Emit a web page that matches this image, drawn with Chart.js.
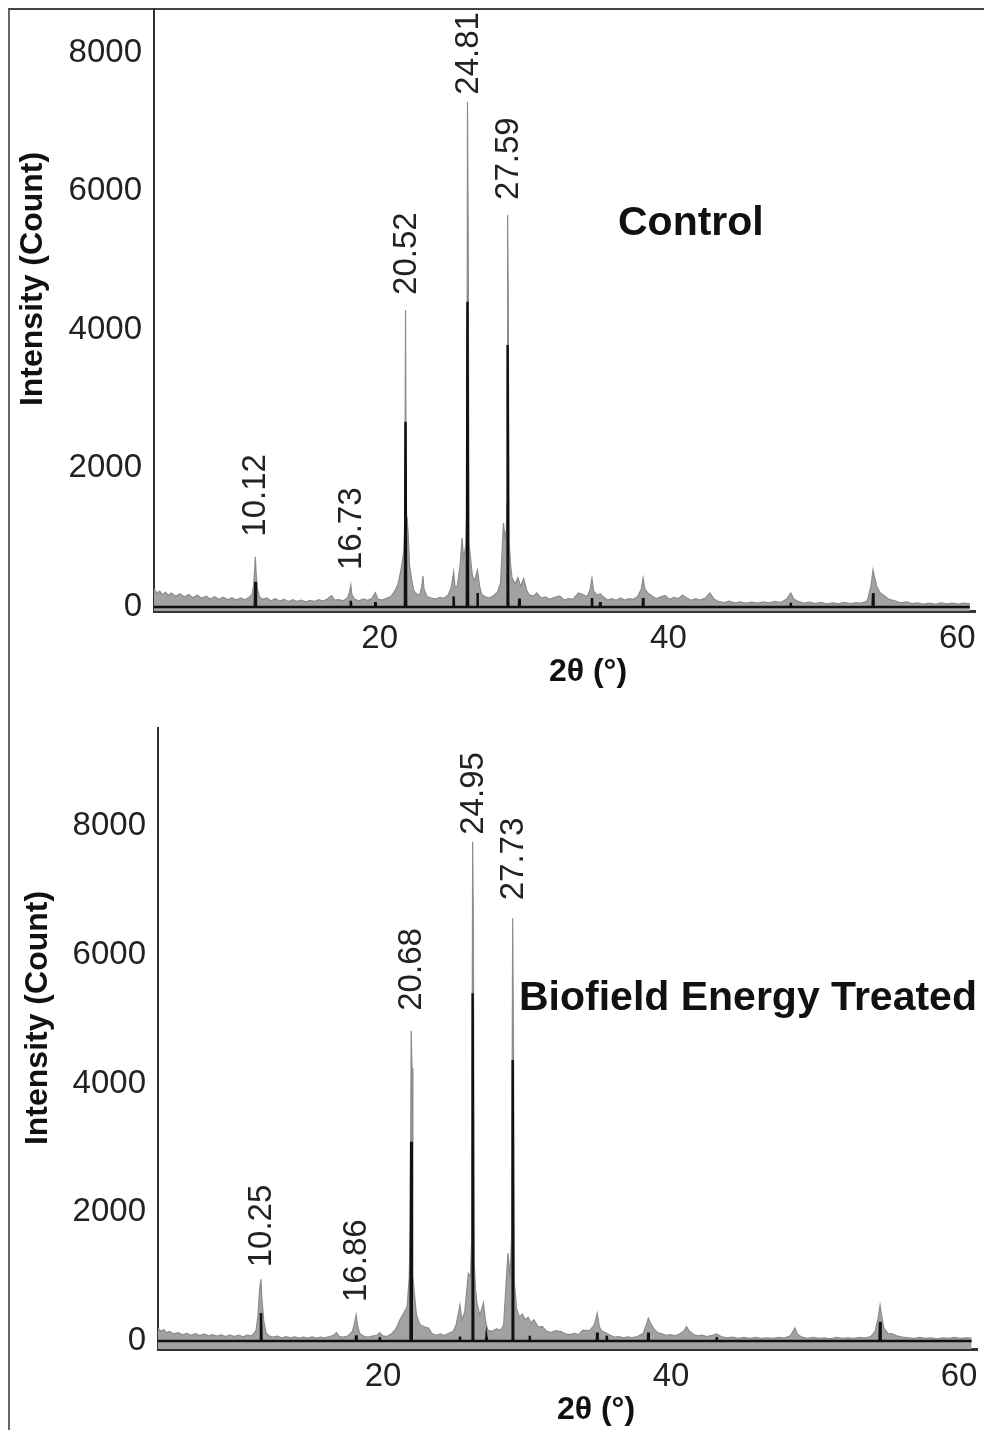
<!DOCTYPE html>
<html>
<head>
<meta charset="utf-8">
<script src="https://cdn.jsdelivr.net/npm/chart.js@4.4.1/dist/chart.umd.min.js"></script>
<style>
  html, body { margin: 0; padding: 0; background: #fff; }
  #page { position: relative; width: 984px; height: 1430px; overflow: hidden; }
  #frame { position: absolute; left: 8px; top: 8px; right: 0; bottom: 0; border-left: 2px solid #666; border-top: 2px solid #444; }
  canvas { position: absolute; left: 0; }
</style>
</head>
<body>
<div id="page">
  <div id="frame"></div>
  <canvas id="controlChart" width="984" height="700" style="top:0"></canvas>
  <canvas id="treatedChart" width="984" height="730" style="top:700px"></canvas>
</div>
<script>
const FONT = '"Liberation Sans", Arial, sans-serif';

// axis ticks
const thetaTicks = [20, 40, 60];
const countTicks = [0, 2000, 4000, 6000, 8000];

// Control - measured pattern (grey)
const controlTheta = [3.1, 3.3, 3.5, 3.7, 3.9, 4.1, 4.3, 4.6, 4.9, 5.2, 5.5, 5.8, 6.1, 6.4, 6.7, 7.0, 7.3, 7.6, 7.9, 8.2,
  8.5, 8.8, 9.1, 9.4, 9.7, 9.9, 10.0, 10.07, 10.12, 10.17, 10.25, 10.4, 10.6, 10.9, 11.2, 11.5, 11.8, 12.1, 12.4, 12.7,
  13.0, 13.3, 13.6, 13.9, 14.2, 14.5, 14.8, 15.1, 15.4, 15.6, 15.9, 16.2, 16.5, 16.65, 16.73, 16.8, 17.0, 17.3, 17.6, 17.9,
  18.2, 18.43, 18.6, 18.9, 19.2, 19.5, 19.8, 20.0, 20.2, 20.4, 20.47, 20.52, 20.57, 20.62, 20.7, 20.8, 20.95, 21.1, 21.3, 21.5,
  21.65, 21.73, 21.8, 22.0, 22.3, 22.6, 22.9, 23.2, 23.5, 23.7, 23.85, 23.95, 24.1, 24.3, 24.43, 24.55, 24.7, 24.77, 24.81, 24.86,
  24.92, 25.0, 25.15, 25.3, 25.5, 25.65, 25.8, 26.0, 26.3, 26.6, 26.9, 27.1, 27.3, 27.4, 27.5, 27.55, 27.59, 27.63, 27.7, 27.8,
  27.9, 28.1, 28.3, 28.5, 28.7, 28.9, 29.1, 29.4, 29.6, 29.9, 30.2, 30.5, 30.8, 31.2, 31.5, 31.8, 32.1, 32.5, 32.8, 33.1,
  33.3, 33.43, 33.55, 33.8, 34.0, 34.2, 34.5, 34.8, 35.1, 35.4, 35.7, 36.0, 36.3, 36.6, 36.85, 36.97, 37.1, 37.3, 37.6, 37.9,
  38.2, 38.5, 38.8, 39.1, 39.4, 39.7, 40.0, 40.3, 40.6, 40.9, 41.3, 41.6, 41.9, 42.2, 42.6, 42.9, 43.3, 43.7, 44.1, 44.5,
  44.9, 45.3, 45.7, 46.1, 46.5, 46.9, 47.2, 47.4, 47.7, 48.1, 48.5, 48.9, 49.3, 49.7, 50.1, 50.5, 50.9, 51.3, 51.7, 52.1,
  52.5, 52.75, 52.9, 53.0, 53.15, 53.4, 53.7, 54.0, 54.4, 54.8, 55.2, 55.6, 56.0, 56.4, 56.8, 57.2, 57.6, 58.0, 58.4, 58.8,
  59.2, 59.6];
const controlCounts = [260, 200, 230, 175, 215, 165, 200, 155, 190, 145, 180, 135, 170, 125, 155, 115, 150, 110, 140, 105,
  135, 100, 130, 105, 140, 190, 320, 540, 726, 500, 270, 150, 110, 130, 90, 120, 85, 110, 80, 105,
  80, 100, 75, 95, 80, 105, 85, 115, 165, 100, 105, 90, 130, 220, 317, 180, 110, 90, 115, 95,
  125, 206, 115, 100, 125, 150, 240, 330, 534, 800, 1200, 4286, 1100, 1300, 1068, 600, 390, 230, 190, 170,
  300, 447, 260, 150, 130, 115, 140, 125, 180, 300, 509, 280, 300, 600, 996, 700, 900, 1500, 7291, 5368,
  900, 750, 450, 380, 534, 300, 180, 150, 130, 160, 220, 350, 1212, 1010, 1100, 1500, 5657, 4603, 900, 600,
  418, 330, 423, 300, 410, 250, 170, 160, 202, 130, 145, 110, 135, 159, 100, 120, 110, 202, 180, 150,
  250, 418, 230, 170, 190, 150, 100, 120, 95, 130, 100, 120, 110, 150, 260, 418, 260, 200, 159, 120,
  145, 165, 110, 140, 120, 170, 130, 95, 120, 100, 130, 202, 110, 80, 65, 85, 60, 75, 55, 70,
  55, 75, 60, 80, 65, 110, 202, 120, 80, 55, 70, 50, 65, 45, 60, 45, 65, 50, 60, 55,
  90, 300, 534, 430, 300, 200, 159, 110, 90, 60, 75, 50, 60, 40, 55, 40, 60, 45, 55, 40,
  55, 45];

// Control - peak sticks (black)
const controlStickTheta = [3.1, 10.08, 10.12, 10.16, 16.70, 16.73, 16.76, 18.40, 18.43, 18.46, 20.48, 20.52, 20.56,
  23.82, 23.85, 23.88, 24.77, 24.81, 24.85, 25.47, 25.50, 25.53, 27.55, 27.59, 27.63, 28.37, 28.40, 28.43,
  33.40, 33.43, 33.46, 33.97, 34.00, 34.03, 36.94, 36.97, 37.00, 47.17, 47.20, 47.23, 52.87, 52.90, 52.93, 59.6];
const controlStickCounts = [0, 0, 365, 0, 0, 90, 0, 0, 70, 0, 0, 2674, 0,
  0, 150, 0, 0, 4405, 0, 0, 200, 0, 0, 3781, 0, 0, 120, 0,
  0, 130, 0, 0, 70, 0, 0, 130, 0, 0, 60, 0, 0, 200, 0, 0];

const controlPeakTheta = [10.12, 16.73, 20.52, 24.81, 27.59];
const controlPeakTop = [726, 317, 4286, 7291, 5657];
const controlPeakLabels = ['10.12', '16.73', '20.52', '24.81', '27.59'];

// Biofield Energy Treated - measured pattern (grey)
const treatedTheta = [3.1, 3.3, 3.5, 3.7, 3.9, 4.2, 4.5, 4.8, 5.1, 5.4, 5.7, 6.0, 6.3, 6.6, 6.9, 7.2, 7.5, 7.8, 8.1, 8.4,
  8.7, 9.0, 9.3, 9.6, 9.9, 10.05, 10.15, 10.25, 10.32, 10.45, 10.6, 10.8, 11.1, 11.4, 11.7, 12.0, 12.3, 12.6, 12.9, 13.2,
  13.5, 13.8, 14.1, 14.4, 14.7, 15.0, 15.3, 15.5, 15.7, 16.0, 16.3, 16.6, 16.75, 16.86, 16.95, 17.1, 17.4, 17.7, 18.0, 18.3,
  18.5, 18.7, 19.0, 19.3, 19.6, 19.9, 20.2, 20.4, 20.55, 20.62, 20.68, 20.74, 20.8, 20.9, 21.05, 21.3, 21.6, 21.9, 22.1, 22.4,
  22.7, 23.0, 23.3, 23.6, 23.8, 24.07, 24.2, 24.4, 24.65, 24.8, 24.88, 24.95, 25.0, 25.06, 25.15, 25.25, 25.45, 25.7, 25.85, 26.0,
  26.3, 26.6, 26.9, 27.1, 27.4, 27.55, 27.65, 27.73, 27.79, 27.85, 28.0, 28.2, 28.4, 28.6, 28.8, 29.0, 29.2, 29.5, 29.8, 30.1,
  30.4, 30.7, 31.1, 31.4, 31.7, 32.0, 32.3, 32.6, 32.9, 33.1, 33.4, 33.6, 33.75, 33.9, 34.26, 34.5, 34.8, 35.1, 35.4, 35.7,
  36.0, 36.4, 36.8, 37.0, 37.15, 37.3, 37.5, 37.8, 38.1, 38.4, 38.7, 39.0, 39.3, 39.6, 39.8, 40.0, 40.3, 40.6, 40.9, 41.2,
  41.6, 41.9, 42.2, 42.6, 43.0, 43.4, 43.8, 44.2, 44.6, 45.0, 45.4, 45.8, 46.2, 46.6, 47.0, 47.33, 47.5, 47.8, 48.2, 48.6,
  49.0, 49.4, 49.8, 50.2, 50.6, 51.0, 51.4, 51.8, 52.2, 52.6, 52.9, 53.1, 53.24, 53.35, 53.5, 53.8, 54.1, 54.4, 54.8, 55.2,
  55.6, 56.0, 56.4, 56.8, 57.2, 57.6, 58.0, 58.4, 58.8, 59.2, 59.6];
const treatedCounts = [200, 150, 180, 130, 150, 110, 130, 95, 120, 90, 115, 85, 110, 80, 100, 75, 95, 70, 95, 70,
  90, 65, 90, 80, 160, 400, 790, 958, 640, 300, 130, 80, 60, 75, 50, 70, 50, 65, 45, 60,
  45, 65, 45, 60, 50, 70, 90, 130, 70, 60, 80, 150, 280, 404, 250, 120, 70, 60, 75, 90,
  130, 80, 70, 110, 180, 330, 450, 530, 1000, 1800, 4818, 4240, 1000, 740, 400, 250, 222, 200, 120, 90,
  110, 85, 120, 150, 250, 560, 330, 450, 1050, 1000, 1600, 7753, 6433, 1200, 800, 590, 400, 590, 300, 170,
  150, 190, 170, 250, 1365, 1000, 1600, 6564, 4400, 900, 500, 370, 420, 330, 370, 280, 330, 220, 222, 150,
  130, 160, 145, 110, 100, 120, 100, 170, 160, 170, 250, 430, 220, 160, 120, 90, 60, 70, 50, 65,
  55, 70, 120, 250, 355, 275, 200, 130, 110, 90, 100, 80, 110, 150, 222, 150, 100, 80, 90, 70,
  90, 110, 70, 50, 60, 40, 55, 40, 55, 40, 50, 40, 55, 45, 80, 200, 110, 60, 40, 55,
  40, 50, 35, 55, 40, 50, 40, 55, 45, 70, 150, 350, 560, 400, 200, 120, 110, 80, 60, 50,
  40, 55, 40, 50, 35, 50, 40, 55, 40, 50, 45];

// Biofield Energy Treated - peak sticks (black)
const treatedStickTheta = [3.1, 10.21, 10.25, 10.29, 16.83, 16.86, 16.89, 18.47, 18.50, 18.53, 20.64, 20.68, 20.72,
  24.04, 24.07, 24.10, 24.91, 24.95, 24.99, 25.87, 25.90, 25.93, 27.69, 27.73, 27.77, 28.87, 28.90, 28.93,
  33.57, 33.60, 33.63, 34.23, 34.26, 34.29, 37.12, 37.15, 37.18, 41.87, 41.90, 41.93, 53.20, 53.24, 53.28, 59.6];
const treatedStickCounts = [0, 0, 435, 0, 0, 90, 0, 0, 60, 0, 0, 3095, 0,
  0, 70, 0, 0, 5399, 0, 0, 60, 0, 0, 4363, 0, 0, 80, 0,
  0, 130, 0, 0, 80, 0, 0, 130, 0, 0, 60, 0, 0, 300, 0, 0];

const treatedPeakTheta = [10.25, 16.86, 20.68, 24.95, 27.73];
const treatedPeakTop = [958, 404, 4818, 7753, 6564];
const treatedPeakLabels = ['10.25', '16.86', '20.68', '24.95', '27.73'];

function toPoints(xs, ys) {
  return xs.map((x, i) => ({ x: x, y: ys[i] }));
}

// texts: peak labels, panel label, axis titles
const xrdText = {
  id: 'xrdText',
  afterDraw(chart, args, opts) {
    const ctx = chart.ctx;
    const xs = chart.scales.x;
    const ys = chart.scales.y;
    ctx.save();
    ctx.fillStyle = '#222';
    ctx.textBaseline = 'middle';
    ctx.textAlign = 'left';
    ctx.font = '33px ' + FONT;
    opts.peakTheta.forEach((t, i) => {
      const px = xs.getPixelForValue(t);
      const py = ys.getPixelForValue(opts.peakTop[i]) - opts.gaps[i];
      ctx.save();
      ctx.translate(px + 1, py);
      ctx.rotate(-Math.PI / 2);
      ctx.fillText(opts.peakLabels[i], 0, 0);
      ctx.restore();
    });
    ctx.fillStyle = '#111';
    ctx.font = 'bold 41px ' + FONT;
    ctx.fillText(opts.panel.text, opts.panel.x, opts.panel.y);
    ctx.font = 'bold 32px ' + FONT;
    ctx.textAlign = 'center';
    ctx.fillText('2θ (°)', opts.xTitle.x, opts.xTitle.y);
    ctx.translate(opts.yTitle.x, opts.yTitle.y);
    ctx.rotate(-Math.PI / 2);
    ctx.fillText('Intensity (Count)', 0, 0);
    ctx.restore();
  }
};

function makeChart(id, cfg) {
  return new Chart(document.getElementById(id), {
    type: 'scatter',
    data: {
      datasets: [
        {
          data: toPoints(cfg.stickTheta, cfg.stickCounts),
          showLine: true, borderColor: '#111', borderWidth: 2.5,
          pointRadius: 0, fill: false
        },
        {
          data: toPoints(cfg.theta, cfg.counts),
          showLine: true, borderColor: '#8c8c8c', backgroundColor: '#a2a2a2',
          borderWidth: 1.2, pointRadius: 0, fill: 'start'
        }
      ]
    },
    options: {
      responsive: false,
      animation: false,
      layout: { padding: cfg.padding },
      plugins: {
        legend: { display: false },
        tooltip: { enabled: false },
        xrdText: cfg.text
      },
      scales: {
        x: {
          type: 'linear', min: 3.1, max: 60,
          grid: { display: false, drawTicks: false },
          border: { display: true, color: '#333', width: 3 },
          ticks: {
            align: 'end', padding: 8, color: '#222',
            font: { family: FONT, size: 33 },
            callback: v => String(v)
          },
          afterBuildTicks: s => { s.ticks = thetaTicks.map(v => ({ value: v })); },
          afterFit: s => { s.height = cfg.xHeight; s.paddingLeft = 0; s.paddingRight = 0; }
        },
        y: {
          type: 'linear', min: cfg.yMin, max: cfg.yMax,
          grid: { display: false, drawTicks: false },
          border: { display: true, color: '#333', width: 2 },
          ticks: {
            padding: 12, color: '#222',
            font: { family: FONT, size: 33 },
            callback: v => String(v)
          },
          afterBuildTicks: s => { s.ticks = countTicks.map(v => ({ value: v })); },
          afterFit: s => { s.width = cfg.yWidth; s.paddingTop = 0; s.paddingBottom = 0; }
        }
      }
    },
    plugins: [xrdText]
  });
}

makeChart('controlChart', {
  theta: controlTheta, counts: controlCounts,
  stickTheta: controlStickTheta, stickCounts: controlStickCounts,
  yMin: -58, yMax: 8629, yWidth: 154, xHeight: 89,
  padding: { left: 0, right: 8.4, top: 9, bottom: 0 },
  text: {
    peakTheta: controlPeakTheta, peakTop: controlPeakTop, peakLabels: controlPeakLabels,
    gaps: [20, 15, 15, 7, 15],
    panel: { text: 'Control', x: 618, y: 224 },
    xTitle: { x: 588, y: 672 },
    yTitle: { x: 33, y: 279 }
  }
});

makeChart('treatedChart', {
  theta: treatedTheta, counts: treatedCounts,
  stickTheta: treatedStickTheta, stickCounts: treatedStickCounts,
  yMin: -124, yMax: 9519, yWidth: 158, xHeight: 81,
  padding: { left: 0, right: 6.6, top: 28, bottom: 0 },
  text: {
    peakTheta: treatedPeakTheta, peakTop: treatedPeakTop, peakLabels: treatedPeakLabels,
    gaps: [12, 13, 20, 7, 18],
    panel: { text: 'Biofield Energy Treated', x: 519, y: 299 },
    xTitle: { x: 596, y: 710 },
    yTitle: { x: 38, y: 318 }
  }
});
</script>
</body>
</html>
